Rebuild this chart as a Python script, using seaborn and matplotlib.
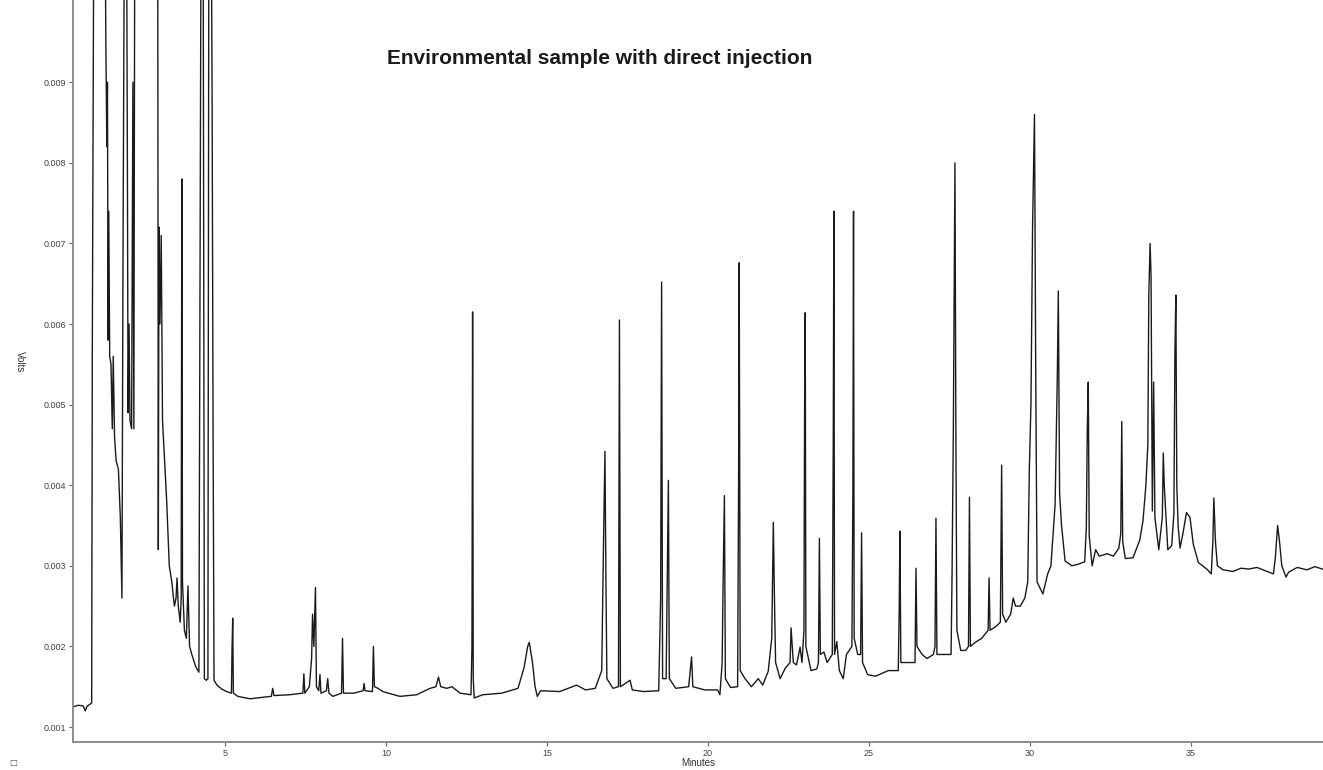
import numpy as np
import pandas as pd
import seaborn as sns
import matplotlib
matplotlib.use('Agg')
import matplotlib.pyplot as plt

# chromatogram trace (minutes, detector signal)
# values above the frame are peaks that run off scale
early_t = [0.28, 0.45, 0.60, 0.66, 0.72, 0.80, 0.86, 0.88, 0.93, 1.27,
           1.30, 1.33, 1.35, 1.37, 1.39, 1.42, 1.46, 1.50, 1.53, 1.57,
           1.62, 1.69, 1.75, 1.80, 1.83, 1.88, 1.94, 1.97, 1.99, 2.02,
           2.05, 2.10, 2.14, 2.17, 2.20, 2.91, 2.93, 2.95, 2.98, 3.02,
           3.06, 3.10, 3.14, 3.19, 3.23, 3.27, 3.35, 3.40, 3.43, 3.48,
           3.51, 3.55, 3.61, 3.64, 3.66, 3.68, 3.74, 3.80, 3.85, 3.90,
           3.97, 4.09, 4.19, 4.22, 4.26, 4.32, 4.36, 4.42, 4.47, 4.50,
           4.57, 4.60, 4.63, 4.66, 4.75, 4.90, 5.05]
early_v = [0.00125, 0.00127, 0.00126, 0.00120, 0.00126, 0.00128, 0.00130, 0.00575, 0.0115, 0.0115,
           0.0095, 0.0082, 0.0090, 0.0058, 0.0074, 0.0056, 0.0055, 0.0047, 0.0056, 0.0046,
           0.0043, 0.0042, 0.0036, 0.0026, 0.0065, 0.0115, 0.0115, 0.0079, 0.0049, 0.0060,
           0.0048, 0.0047, 0.0090, 0.0047, 0.0115, 0.0115, 0.0032, 0.0072, 0.0060, 0.0071,
           0.0048, 0.0045, 0.0042, 0.0038, 0.0034, 0.0030, 0.0028, 0.0026, 0.0025, 0.0026,
           0.00285, 0.0025, 0.0023, 0.0026, 0.0078, 0.0028, 0.0022, 0.0021, 0.00275, 0.0020,
           0.0019, 0.00175, 0.00168, 0.0059, 0.0115, 0.0115, 0.0016, 0.00158, 0.0016, 0.0115,
           0.0115, 0.0088, 0.0047, 0.00158, 0.00152, 0.00147, 0.00144]

mid_t = [5.20, 5.22, 5.24, 5.26, 5.40, 5.78, 6.20, 6.44, 6.48, 6.52,
         7.00, 7.42, 7.45, 7.48, 7.62, 7.69, 7.72, 7.76, 7.81, 7.84,
         7.91, 7.95, 7.98, 8.15, 8.19, 8.23, 8.35, 8.62, 8.65, 8.68,
         9.00, 9.29, 9.32, 9.35, 9.58, 9.61, 9.64, 9.75, 9.90, 10.43,
         10.95, 11.37, 11.55, 11.63, 11.70, 11.89, 12.05, 12.30, 12.64, 12.67,
         12.69, 12.71, 12.74, 13.00, 13.60, 14.10, 14.29, 14.40, 14.45, 14.55,
         14.63, 14.70, 14.80, 15.40, 15.92, 16.20, 16.50, 16.70, 16.73, 16.76,
         16.80, 16.83, 16.86, 17.05, 17.22, 17.25, 17.28, 17.58, 17.65, 18.00,
         18.47, 18.53, 18.56, 18.59, 18.70, 18.74, 18.77, 18.80, 19.00, 19.40,
         19.49, 19.53, 19.90]
mid_v = [0.00142, 0.0020, 0.00235, 0.00142, 0.00138, 0.00135, 0.00137, 0.00138, 0.00148, 0.00139,
         0.00140, 0.00142, 0.00166, 0.00142, 0.0015, 0.00185, 0.0024, 0.0020, 0.00273, 0.0015,
         0.00145, 0.00165, 0.00142, 0.00145, 0.0016, 0.00142, 0.00138, 0.00142, 0.0021, 0.00142,
         0.00142, 0.00145, 0.00154, 0.00145, 0.00144, 0.00200, 0.0015, 0.00148, 0.00144, 0.00138,
         0.00140, 0.00148, 0.00150, 0.00162, 0.0015, 0.00148, 0.00150, 0.00142, 0.00140, 0.0020,
         0.00615, 0.0016, 0.00136, 0.00140, 0.00142, 0.00148, 0.00174, 0.00200, 0.00205, 0.00180,
         0.00150, 0.00138, 0.00145, 0.00144, 0.00152, 0.00146, 0.00148, 0.0017, 0.00258, 0.0034,
         0.00442, 0.00285, 0.0016, 0.00148, 0.0015, 0.00605, 0.0015, 0.00158, 0.00146, 0.00144,
         0.00145, 0.0026, 0.00652, 0.0016, 0.0016, 0.0030, 0.00406, 0.0016, 0.00148, 0.00150,
         0.00187, 0.00150, 0.00146]

late_t = [20.30, 20.37, 20.44, 20.47, 20.51, 20.54, 20.70, 20.92, 20.95, 20.97,
          21.00, 21.15, 21.35, 21.56, 21.70, 21.87, 21.98, 22.03, 22.06, 22.10,
          22.24, 22.40, 22.55, 22.58, 22.65, 22.75, 22.86, 22.92, 22.98, 23.00,
          23.02, 23.04, 23.20, 23.38, 23.43, 23.46, 23.49, 23.60, 23.70, 23.86,
          23.89, 23.91, 23.93, 24.00, 24.08, 24.20, 24.30, 24.47, 24.50, 24.52,
          24.54, 24.65, 24.74, 24.77, 24.80, 24.96, 25.20, 25.60, 25.91, 25.94,
          25.96, 25.99, 26.25, 26.43, 26.46, 26.49, 26.65, 26.80, 27.00, 27.05,
          27.08, 27.11, 27.35, 27.55, 27.58, 27.62, 27.67, 27.70, 27.73, 27.85,
          28.00, 28.09, 28.12, 28.15, 28.30, 28.50, 28.70, 28.73, 28.76, 28.95,
          29.08, 29.12, 29.15, 29.25, 29.40, 29.48, 29.55, 29.70, 29.84, 29.93,
          29.98, 30.03, 30.08, 30.14, 30.18, 30.22, 30.40, 30.55, 30.65, 30.78,
          30.85, 30.88, 30.92, 30.98, 31.09, 31.30, 31.50, 31.70, 31.75, 31.78,
          31.81, 31.84, 31.93, 32.04, 32.15, 32.40, 32.59, 32.76, 32.82, 32.85,
          32.88, 32.96, 33.20, 33.41, 33.51, 33.60, 33.66, 33.69, 33.73, 33.76,
          33.80, 33.84, 33.88, 34.00, 34.11, 34.14, 34.17, 34.28, 34.40, 34.47,
          34.50, 34.53, 34.56, 34.60, 34.66, 34.75, 34.86, 34.97, 35.07, 35.23,
          35.49, 35.63, 35.68, 35.71, 35.76, 35.82, 36.00, 36.30, 36.55, 36.80,
          37.05, 37.30, 37.56, 37.62, 37.69, 37.75, 37.82, 37.95, 38.03, 38.30,
          38.60, 38.85, 39.15]
late_v = [0.00146, 0.00140, 0.0018, 0.0028, 0.00387, 0.0016, 0.00149, 0.00150, 0.0040, 0.00676,
          0.0017, 0.00160, 0.00150, 0.00160, 0.00152, 0.00169, 0.0021, 0.00354, 0.0027, 0.0018,
          0.0016, 0.00173, 0.0018, 0.00223, 0.0018, 0.00177, 0.00199, 0.0018, 0.0022, 0.0049,
          0.00614, 0.0020, 0.0017, 0.00172, 0.0018, 0.00334, 0.0019, 0.00193, 0.0018, 0.0019,
          0.0045, 0.0074, 0.0019, 0.00206, 0.0017, 0.0016, 0.0019, 0.0020, 0.0039, 0.0074,
          0.0021, 0.0019, 0.0019, 0.00341, 0.0018, 0.00165, 0.00163, 0.0017, 0.0017, 0.0025,
          0.00343, 0.0018, 0.0018, 0.0018, 0.00297, 0.0020, 0.0019, 0.00185, 0.0019, 0.0020,
          0.00359, 0.0019, 0.0019, 0.0019, 0.0029, 0.0047, 0.0080, 0.0045, 0.0022, 0.00195,
          0.00195, 0.0020, 0.00385, 0.0020, 0.00205, 0.0021, 0.0022, 0.00285, 0.0022, 0.00225,
          0.0023, 0.00425, 0.0024, 0.0023, 0.0024, 0.0026, 0.0025, 0.0025, 0.0026, 0.0028,
          0.0042, 0.0050, 0.0072, 0.0086, 0.0053, 0.0028, 0.00265, 0.0029, 0.0030, 0.00376,
          0.00538, 0.00641, 0.00389, 0.0035, 0.00306, 0.00300, 0.00302, 0.00305, 0.00348, 0.0047,
          0.00528, 0.00337, 0.0030, 0.0032, 0.00312, 0.00315, 0.00312, 0.00322, 0.0034, 0.00479,
          0.0033, 0.00309, 0.0031, 0.00332, 0.00356, 0.0040, 0.0045, 0.00636, 0.0070, 0.0066,
          0.00368, 0.00528, 0.0036, 0.0032, 0.0036, 0.0044, 0.0040, 0.0032, 0.00325, 0.00365,
          0.0056, 0.00636, 0.0040, 0.0035, 0.00322, 0.0034, 0.00366, 0.0036, 0.00327, 0.00304,
          0.00296, 0.0029, 0.0033, 0.00384, 0.0033, 0.0030, 0.00295, 0.00293, 0.00297, 0.00296,
          0.00298, 0.00294, 0.0029, 0.0031, 0.0035, 0.0033, 0.0030, 0.00286, 0.00292, 0.00298,
          0.00295, 0.00299, 0.00295]

x_ticks = [5, 10, 15, 20, 25, 30, 35]
y_ticks = [0.001, 0.002, 0.003, 0.004, 0.005, 0.006, 0.007, 0.008, 0.009]

trace = pd.DataFrame({
    'minutes': early_t + mid_t + late_t,
    'signal': early_v + mid_v + late_v,
})

sns.set_theme(style='ticks')
plt.rcParams['font.family'] = ['Liberation Sans', 'DejaVu Sans']

fig = plt.figure(figsize=(13.23, 7.7), dpi=100)
ax = fig.add_axes([73 / 1323, 28 / 770, 1250 / 1323, 742 / 770])

sns.lineplot(
    data=trace,
    x='minutes',
    y='signal',
    estimator=None,
    sort=False,
    color='#1a1a1a',
    linewidth=1.0,
    ax=ax
)

ax.set_xlim(0.28, 39.1)
ax.set_ylim(0.000814, 0.01002)
ax.set_xticks(x_ticks)
ax.set_xticklabels([str(t) for t in x_ticks])
ax.set_yticks(y_ticks)
ax.set_yticklabels([f'{v:.3f}' for v in y_ticks])
ax.tick_params(direction='out', length=3, width=0.8, colors='#666666',
               labelsize=6.5, labelcolor='#444444', pad=2)

sns.despine(ax=ax)
for side in ['left', 'bottom']:
    ax.spines[side].set_color('#8c8c8c')
    ax.spines[side].set_linewidth(1.4)

ax.set_xlabel('Minutes', fontsize=7, color='#333333', labelpad=0)
ax.set_ylabel('')
fig.text(20 / 1323, 1 - 362 / 770, 'Volts', rotation=270, fontsize=7,
         color='#333333', ha='center', va='center')
fig.text(13 / 1323, 1 - 763 / 770, '\u25a1', fontsize=6, color='#555555',
         ha='center', va='center', family=['DejaVu Sans'])

fig.text(600 / 1323, 1 - 58 / 770, 'Environmental sample with direct injection',
         fontsize=15, fontweight='bold', color='#1a1a1a', ha='center', va='center',
         family=['Liberation Sans Narrow', 'Liberation Sans', 'DejaVu Sans'])

fig.savefig('out.png', dpi=100)
